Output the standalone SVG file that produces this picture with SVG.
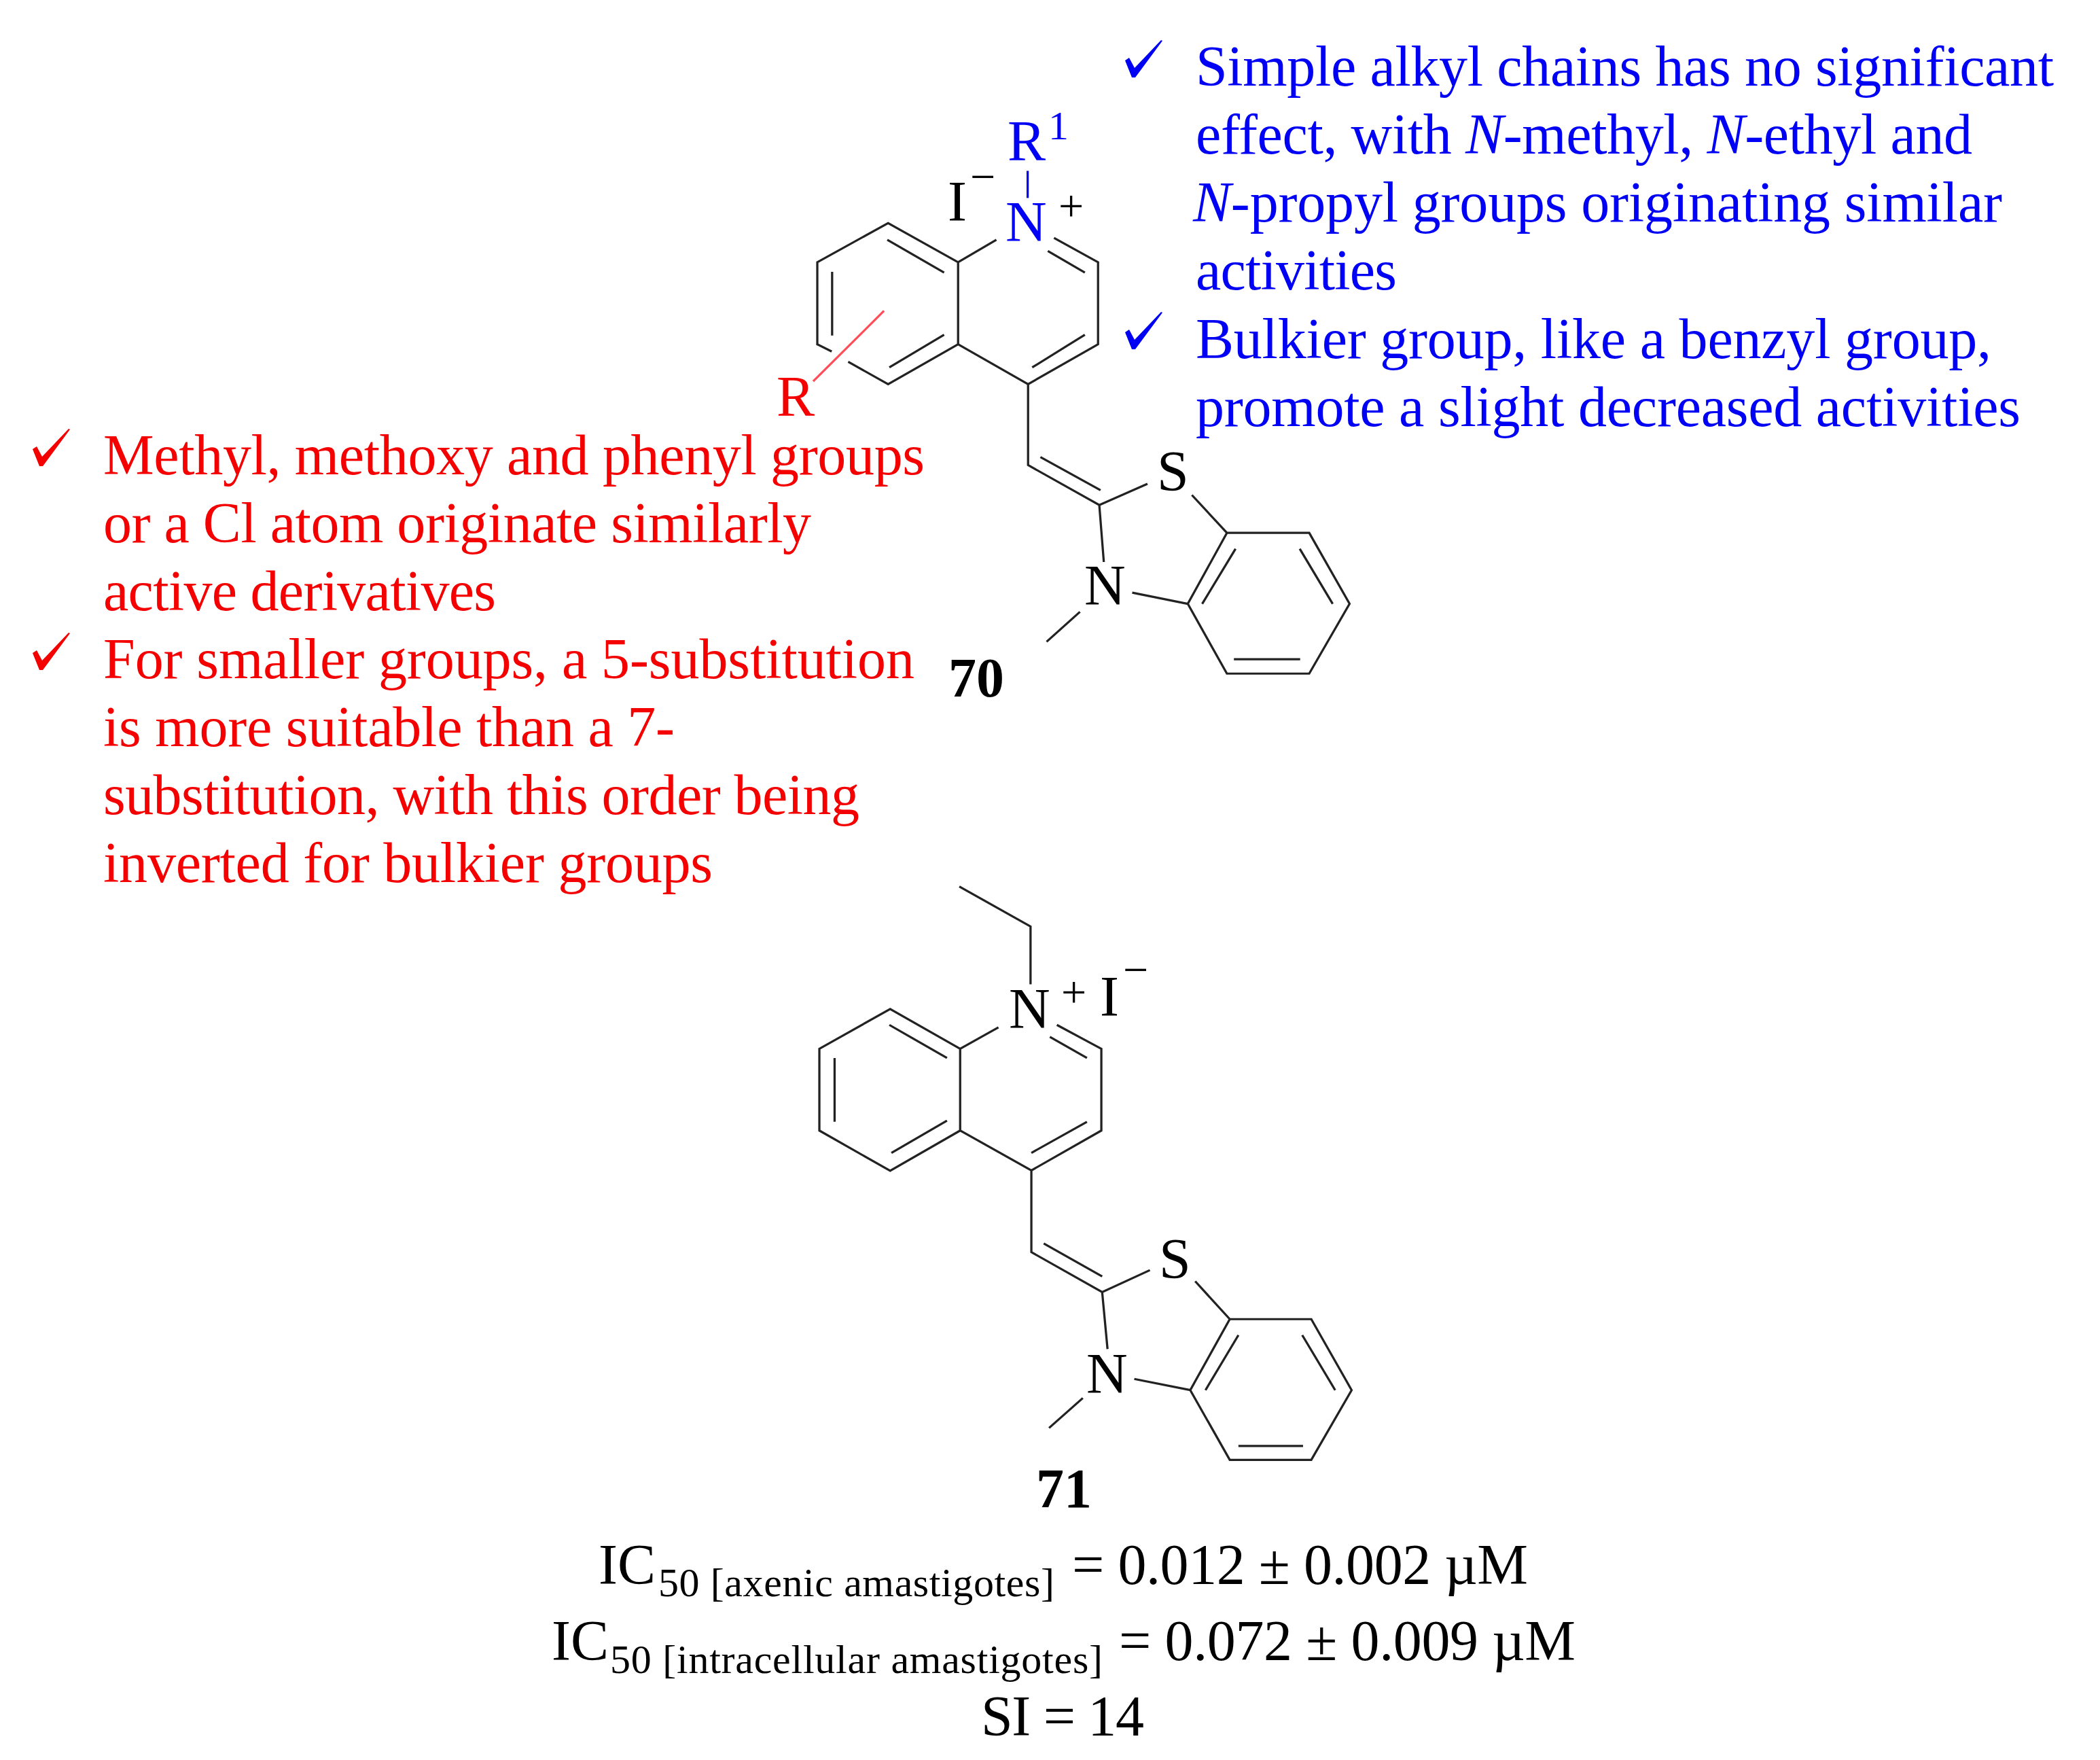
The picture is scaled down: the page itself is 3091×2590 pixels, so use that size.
<svg xmlns="http://www.w3.org/2000/svg" xmlns:xlink="http://www.w3.org/1999/xlink" width="3091" height="2590" viewBox="0 0 3091 2590">
<style>
text{font-family:"Liberation Serif","Times New Roman",serif;font-size:84px;fill:#000}
.blue{fill:#0000f5}
.red{fill:#f50000}
.sm{font-size:60px}
.sup{font-size:66px}
.b{font-weight:bold;font-size:82px}
.bond{fill:none;stroke:#222;stroke-width:5.4;stroke-linejoin:miter}
</style>
<defs>
<path id="chk" d="M0,30 L6,26 L14,41 L53,0 L55,1 L15,55 L10,55 Z"/>
</defs>
<rect width="3091" height="2590" fill="#fff"/>

<g id="notes-blue">
<use xlink:href="#chk" href="#chk" x="1656" y="59" fill="#0000f5"/>
<use xlink:href="#chk" href="#chk" x="1656" y="459" fill="#0000f5"/>
<text class="blue" x="1760" y="126" textLength="1263">Simple alkyl chains has no significant</text>
<text class="blue" x="1760" y="226" textLength="1143">effect, with <tspan font-style="italic">N</tspan>-methyl, <tspan font-style="italic">N</tspan>-ethyl and</text>
<text class="blue" x="1756" y="326" textLength="1191"><tspan font-style="italic">N</tspan>-propyl groups originating similar</text>
<text class="blue" x="1760" y="426" textLength="296">activities</text>
<text class="blue" x="1760" y="527" textLength="1171">Bulkier group, like a benzyl group,</text>
<text class="blue" x="1760" y="627" textLength="1214">promote a slight decreased activities</text>
</g>

<g id="notes-red">
<use xlink:href="#chk" href="#chk" x="48" y="631" fill="#f50000"/>
<use xlink:href="#chk" href="#chk" x="48" y="931" fill="#f50000"/>
<text class="red" x="152" y="698" textLength="1209">Methyl, methoxy and phenyl groups</text>
<text class="red" x="152" y="798" textLength="1042">or a Cl atom originate similarly</text>
<text class="red" x="152" y="898" textLength="578">active derivatives</text>
<text class="red" x="152" y="998" textLength="1194">For smaller groups, a 5-substitution</text>
<text class="red" x="152" y="1098" textLength="841">is more suitable than a 7-</text>
<text class="red" x="152" y="1198" textLength="1113">substitution, with this order being</text>
<text class="red" x="152" y="1298" textLength="897">inverted for bulkier groups</text>
</g>

<g id="compound-70">
<g transform="translate(1100,130) scale(.6059,.5867)">
<path class="bond" d="M205,660 L170,642 L170,436 L342,338 L512,436 L512,642 L342,742 L245,686 M512,436 L605,380 M745,375 L852,436 L852,642 L682,742 L512,642 M340,380 L478,462 M478,618 L345,700 M206,460 L206,620 M730,408 L820,462 M820,618 L692,700 M682,742 L682,945 L855,1045 L972,992 M712,925 L858,1008 M855,1045 L866,1188 M1080,1020 L1165,1115 L1365,1115 L1463,1293 L1365,1468 L1165,1468 L1070,1293 L1165,1115 M935,1265 L1070,1293 M1186,1155 L1105,1293 M1342,1155 L1422,1293 M1182,1432 L1343,1432 M808,1313 L727,1388"/>
<path class="bond" style="stroke:#0000f5" d="M681,207 L681,275"/>
<path class="bond" style="stroke:#ff4d5a" d="M332,558 L160,735"/>
</g>
<text class="blue" x="1483" y="236">R</text>
<text class="blue sm" x="1543" y="205">1</text>
<text x="1395" y="325">I</text>
<text class="sup" x="1428" y="282">−</text>
<text class="blue" x="1480" y="355">N</text>
<text class="sup" x="1558" y="325">+</text>
<text class="red" x="1143" y="612">R</text>
<text x="1703" y="722">S</text>
<text x="1596" y="890">N</text>
<text class="b" x="1396" y="1025">70</text>
</g>

<g id="compound-71">
<g transform="translate(1100,1290) scale(.6059,.5867)">
<path class="bond" d="M515,25 L688,125 L688,270 M175,637 L175,432 L347,332 L517,432 L517,637 L347,738 Z M517,432 L610,378 M752,372 L860,432 L860,637 L690,737 L517,637 M345,372 L485,455 M485,612 L350,693 M212,455 L212,615 M735,402 L825,455 M825,615 L690,693 M690,737 L690,942 L862,1042 L978,987 M720,920 L862,1003 M862,1042 L875,1185 M1088,1015 L1172,1110 L1370,1110 L1468,1288 L1370,1463 L1172,1463 L1076,1288 L1172,1110 M940,1260 L1076,1288 M1193,1150 L1113,1288 M1348,1150 L1428,1288 M1193,1428 L1350,1428 M815,1308 L733,1383"/>
</g>
<text x="1485" y="1513">N</text>
<text class="sup" x="1562" y="1482">+</text>
<text x="1619" y="1495">I</text>
<text class="sup" x="1653" y="1449">−</text>
<text x="1706" y="1881">S</text>
<text x="1599" y="2050">N</text>
<text class="b" x="1525" y="2218">71</text>
</g>

<g id="activity">
<text x="881" y="2331">IC</text>
<text class="sm" x="969" y="2349" textLength="583">50 [axenic amastigotes]</text>
<text x="1578" y="2331" textLength="671">= 0.012 ± 0.002 µM</text>
<text x="812" y="2443">IC</text>
<text class="sm" x="898" y="2462" textLength="725">50 [intracellular amastigotes]</text>
<text x="1647" y="2443" textLength="672">= 0.072 ± 0.009 µM</text>
<text x="1444" y="2554" textLength="240">SI = 14</text>
</g>
</svg>
